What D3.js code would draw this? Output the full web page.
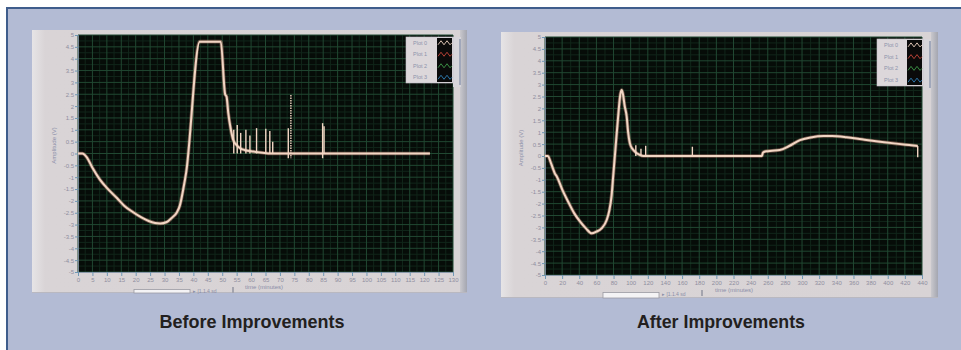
<!DOCTYPE html>
<html>
<head>
<meta charset="utf-8">
<script src="https://cdn.jsdelivr.net/npm/d3@7"></script>
<style>
  body { margin: 0; background: #fff; }
  svg text { font-family: 'Liberation Sans', Arial, sans-serif; }
</style>
</head>
<body>
<svg id="chart" width="961" height="350"></svg>
<script>
// ---- data ----
// before: time (minutes), amplitude (V)
const beforeCurve = [
  [0, 0], [1.5, 0], [3, -0.15], [5, -0.6], [7.6, -1.1], [10, -1.45], [13.5, -1.88],
  [16, -2.2], [19, -2.47], [22, -2.7], [24.5, -2.85], [26.7, -2.93], [28.5, -2.95],
  [30.8, -2.89], [32.5, -2.72], [34.2, -2.5], [35.3, -2.2], [36.5, -1.5], [37.5, -0.8],
  [42.2, 4.72], [49.5, 4.72], [51, 2.5], [51.5, 2.4], [52.1, 1.7], [53, 1.0],
  [53.8, 0.57], [55, 0.35], [56.2, 0.22], [58, 0.14], [60.8, 0.08], [64, 0.03],
  [67, 0], [122, 0]
];
// spikes: time, top, bottom
const beforeSpikes = [
  [54, 1.0, 0], [55.2, 1.2, 0], [56.4, 0.87, 0], [58.2, 1.0, 0], [59.6, 0.76, 0],
  [61.9, 1.07, 0], [65.1, 1.04, 0], [66.5, 0.95, 0], [67.5, 0.5, 0], [72.9, 1.07, -0.2],
  [73.8, 2.47, -0.2], [84.8, 1.28, -0.2], [85.3, 1.15, 0]
];
const afterCurve = [
  [0, 0], [3.5, 0], [6, -0.2], [9, -0.5], [11.7, -0.75], [13.6, -0.85], [20, -1.4],
  [27, -1.92], [34, -2.4], [41, -2.76], [48, -3.05], [54.5, -3.25], [60, -3.18],
  [66, -3.04], [72, -2.69], [75, -2.3], [77.8, -1.64], [79.7, -0.8], [82, 0.2],
  [85, 1.5], [88, 2.6], [89.5, 2.77], [91, 2.6], [93, 2.1], [95.3, 1.67], [97, 1.0],
  [99, 0.54], [102, 0.3], [105, 0.18], [110, 0.06], [115, 0], [253, 0], [254.5, 0.15],
  [258, 0.2], [265, 0.22], [274, 0.25], [285, 0.42], [297.5, 0.67], [310, 0.78],
  [325, 0.84], [335, 0.84], [352, 0.79], [370, 0.7], [391, 0.6], [410, 0.52],
  [425, 0.46], [435, 0.42]
];
const afterSpikes = [
  [106, 0.45, 0], [112, 0.3, 0], [117.5, 0.43, 0], [172, 0.39, 0], [435, 0.42, -0.05]
];
const yTickValues = [5, 4.5, 4, 3.5, 3, 2.5, 2, 1.5, 1, 0.5, 0, -0.5, -1, -1.5, -2,
  -2.5, -3, -3.5, -4, -4.5, -5];
const beforeXTicks = [0, 5, 10, 15, 20, 25, 30, 35, 40, 45, 50, 55, 60, 65, 70, 75, 80,
  85, 90, 95, 100, 105, 110, 115, 120, 125, 130];
const afterXTicks = [0, 20, 40, 60, 80, 100, 120, 140, 160, 180, 200, 220, 240, 260, 280,
  300, 320, 340, 360, 380, 400, 420, 440];
const legendLabels = ['Plot 0', 'Plot 1', 'Plot 2', 'Plot 3'];
const titles = ['Before Improvements', 'After Improvements'];
const yAxisLabel = 'Amplitude (V)';
const xAxisLabel = 'time (minutes)';

const W = 961, H = 350;
const svg = d3.select('#chart');
const defs = svg.append('defs');

const panelGrad = defs.append('linearGradient').attr('id', 'panelGrad')
  .attr('x1', 0).attr('x2', 1).attr('y1', 0).attr('y2', 0);
panelGrad.append('stop').attr('offset', '0%').attr('stop-color', '#e6e4e6');
panelGrad.append('stop').attr('offset', '3%').attr('stop-color', '#d9d4d6');
panelGrad.append('stop').attr('offset', '100%').attr('stop-color', '#d8d3d5');
const edgeGrad = defs.append('linearGradient').attr('id', 'edgeGrad')
  .attr('x1', 0).attr('x2', 1).attr('y1', 0).attr('y2', 0);
edgeGrad.append('stop').attr('offset', '0%').attr('stop-color', '#c9c8cd');
edgeGrad.append('stop').attr('offset', '100%').attr('stop-color', '#a4a6b0');

// outer frame
svg.append('rect')
  .attr('x', 7).attr('y', 8).attr('width', W).attr('height', H)
  .attr('fill', '#b3bbd4').attr('stroke', '#3f5d8c').attr('stroke-width', 2);

const charts = [
  {
    curve: beforeCurve, spikes: beforeSpikes, xTicks: beforeXTicks, title: titles[0],
    panel: {x: 32, y: 30, w: 435, h: 263}, plot: {x0: 78, x1: 453, y0: 35, y1: 272},
    legend: {x: 406, y: 37, w: 47, h: 46}, ctrlX: 134, titleX: 252, titleY: 328,
    titleW: 185, xLabelX: 264
  },
  {
    curve: afterCurve, spikes: afterSpikes, xTicks: afterXTicks, title: titles[1],
    panel: {x: 501, y: 32, w: 437, h: 266}, plot: {x0: 545, x1: 922, y0: 37, y1: 275},
    legend: {x: 877, y: 39, w: 46, h: 47}, ctrlX: 603, titleX: 721, titleY: 328,
    titleW: 168, xLabelX: 734
  }
];

const seriesColors = ['#f2d6c4', '#c8463a', '#3e9a4a', '#2f7fb8'];

charts.forEach(drawChart);

function drawChart(cfg) {
  const g = svg.append('g');
  const p = cfg.panel;
  const x = d3.scaleLinear().domain([cfg.xTicks[0], cfg.xTicks[cfg.xTicks.length - 1]])
    .range([cfg.plot.x0, cfg.plot.x1]);
  const y = d3.scaleLinear().domain([-5, 5]).range([cfg.plot.y1, cfg.plot.y0]);

  // gray LabVIEW panel
  g.append('rect').attr('x', p.x).attr('y', p.y).attr('width', p.w).attr('height', p.h)
    .attr('fill', 'url(#panelGrad)');
  g.append('rect').attr('x', p.x + p.w - 7).attr('y', p.y).attr('width', 7).attr('height', p.h)
    .attr('fill', 'url(#edgeGrad)');
  g.append('line').attr('x1', p.x).attr('x2', p.x + p.w).attr('y1', p.y + p.h - 0.5).attr('y2', p.y + p.h - 0.5)
    .attr('stroke', '#b9b8c0');

  // plot area
  g.append('rect')
    .attr('x', cfg.plot.x0).attr('y', cfg.plot.y0)
    .attr('width', cfg.plot.x1 - cfg.plot.x0).attr('height', cfg.plot.y1 - cfg.plot.y0)
    .attr('fill', '#060c08');

  const xMinor = cfg.xTicks.slice(1).map((d, i) => (d + cfg.xTicks[i]) / 2);
  const yMinor = yTickValues.slice(1).map((d, i) => (d + yTickValues[i]) / 2);
  const grid = g.append('g');
  grid.selectAll('.vminor').data(xMinor).join('line')
    .attr('x1', d => x(d)).attr('x2', d => x(d)).attr('y1', cfg.plot.y0).attr('y2', cfg.plot.y1)
    .attr('stroke', '#11261a').attr('stroke-width', 1);
  grid.selectAll('.hminor').data(yMinor).join('line')
    .attr('y1', d => y(d)).attr('y2', d => y(d)).attr('x1', cfg.plot.x0).attr('x2', cfg.plot.x1)
    .attr('stroke', '#11261a').attr('stroke-width', 1);
  grid.selectAll('.vmajor').data(cfg.xTicks).join('line')
    .attr('x1', d => x(d)).attr('x2', d => x(d)).attr('y1', cfg.plot.y0).attr('y2', cfg.plot.y1)
    .attr('stroke', '#214832').attr('stroke-width', 1);
  grid.selectAll('.hmajor').data(yTickValues).join('line')
    .attr('y1', d => y(d)).attr('y2', d => y(d)).attr('x1', cfg.plot.x0).attr('x2', cfg.plot.x1)
    .attr('stroke', '#214832').attr('stroke-width', 1);

  // axes
  const yAxis = g.append('g').attr('transform', `translate(${cfg.plot.x0},0)`)
    .call(d3.axisLeft(y).tickValues(yTickValues).tickSize(3).tickPadding(1).tickFormat(d => String(d)));
  const xAxis = g.append('g').attr('transform', `translate(0,${cfg.plot.y1})`)
    .call(d3.axisBottom(x).tickValues(cfg.xTicks).tickSize(4).tickPadding(2).tickFormat(d => String(d)));
  [yAxis, xAxis].forEach(a => {
    a.select('.domain').attr('stroke', '#8e9cb4').attr('stroke-width', 0.8);
    a.selectAll('.tick line').attr('stroke', '#6f97b4');
    a.selectAll('.tick text').attr('fill', '#8f8e9e').style('font-size', '6px');
  });

  // data line
  const line = d3.line().x(d => x(d[0])).y(d => y(d[1])).curve(d3.curveMonotoneX);
  g.append('path').datum(cfg.curve).attr('d', line)
    .attr('fill', 'none').attr('stroke', '#d99a86').attr('stroke-opacity', 0.45)
    .attr('stroke-width', 3.6).attr('stroke-linejoin', 'round');
  g.selectAll('.spike').data(cfg.spikes).join('line')
    .attr('x1', d => x(d[0])).attr('x2', d => x(d[0]))
    .attr('y1', d => y(d[1])).attr('y2', d => y(d[2]))
    .attr('stroke', seriesColors[0]).attr('stroke-width', 1.4)
    .attr('stroke-dasharray', d => d[1] > 2 ? '1.5,1' : null);
  g.append('path').datum(cfg.curve).attr('d', line)
    .attr('fill', 'none').attr('stroke', seriesColors[0])
    .attr('stroke-width', 2).attr('stroke-linejoin', 'round');

  // legend with scrollbar
  const L = cfg.legend;
  g.append('rect').attr('x', L.x + L.w).attr('y', L.y).attr('width', 8).attr('height', L.h + 4)
    .attr('fill', '#d7d5da');
  g.append('line').attr('x1', L.x + L.w + 7).attr('x2', L.x + L.w + 7).attr('y1', L.y + 2).attr('y2', L.y + L.h + 2)
    .attr('stroke', '#7d8aa6').attr('stroke-width', 1.2);
  g.append('rect').attr('x', L.x).attr('y', L.y).attr('width', L.w).attr('height', L.h)
    .attr('fill', '#dcd7da').attr('stroke', '#c4c0c8').attr('stroke-width', 0.6);
  const rowH = L.h / legendLabels.length;
  const sw = L.x + L.w - 16;
  g.append('rect').attr('x', sw).attr('y', L.y + 1).attr('width', 15).attr('height', L.h - 2)
    .attr('fill', '#0a0a0a');
  legendLabels.forEach((lab, i) => {
    const cy = L.y + rowH * (i + 0.5);
    g.append('text').attr('x', L.x + 7).attr('y', cy + 2).text(lab)
      .attr('fill', '#8d93ab').style('font-size', '5.5px');
    const zz = [[0, 2], [3, -2], [6, 2], [9, -2], [12, 2], [14, 0]];
    g.append('path')
      .attr('d', d3.line()(zz.map(q => [sw + 1 + q[0], cy + q[1]])))
      .attr('fill', 'none').attr('stroke', seriesColors[i]).attr('stroke-width', 0.9);
  });

  // axis labels
  g.append('text')
    .attr('transform', `translate(${cfg.plot.x0 - 22},${(cfg.plot.y0 + cfg.plot.y1) / 2 - 8}) rotate(-90)`)
    .attr('text-anchor', 'middle').text(yAxisLabel)
    .attr('fill', '#8a8ea8').style('font-size', '6px');
  g.append('text').attr('x', cfg.xLabelX).attr('y', cfg.plot.y1 + 17)
    .attr('text-anchor', 'middle').text(xAxisLabel)
    .attr('fill', '#8a8ea8').style('font-size', '6px');

  // little control strip under the graph
  g.append('rect').attr('x', cfg.ctrlX).attr('y', cfg.plot.y1 + 17.5).attr('width', 56)
    .attr('height', p.y + p.h - cfg.plot.y1 - 17.5)
    .attr('fill', '#f4f3f5').attr('stroke', '#9b9aa2').attr('stroke-width', 0.8);
  g.append('text').attr('x', cfg.ctrlX + 59).attr('y', cfg.plot.y1 + 21)
    .text('\u25B8 [1.1.4 sd').attr('fill', '#8a8ea8').style('font-size', '5px');
  g.append('rect').attr('x', cfg.ctrlX + 98).attr('y', cfg.plot.y1 + 15).attr('width', 2).attr('height', 6)
    .attr('fill', '#a4a4ae');

  // caption, condensed bold
  g.append('text').attr('x', cfg.titleX).attr('y', cfg.titleY)
    .attr('text-anchor', 'middle').text(cfg.title)
    .attr('textLength', cfg.titleW).attr('lengthAdjust', 'spacingAndGlyphs')
    .attr('fill', '#231f20')
    .style('font-family', "'Liberation Sans', Arial, sans-serif")
    .style('font-weight', 'bold').style('font-size', '19px');
}
</script>
</body>
</html>
